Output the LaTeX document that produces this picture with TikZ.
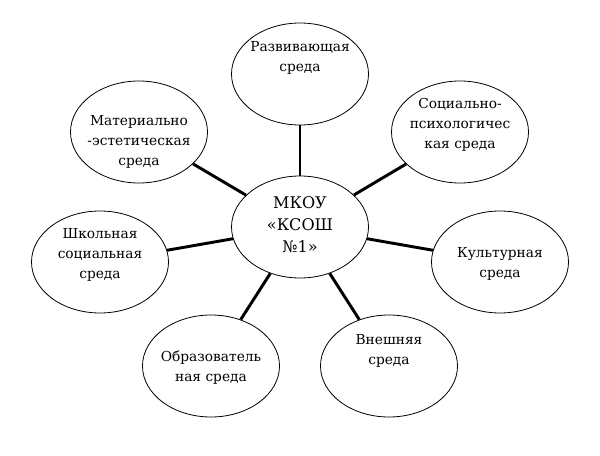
\documentclass[tikz,border=0pt]{standalone}
\usepackage{fontspec}
\setmainfont{DejaVu Serif}[Scale=0.86]
\usetikzlibrary{shapes.geometric}

\begin{document}
\begin{tikzpicture}[x=0.75pt,y=-0.75pt,
  sreda/.style={draw,ellipse,line width=0.6pt,minimum width=102.75pt,minimum height=76.5pt,inner sep=0pt},
  nadpis/.style={align=center,inner sep=0pt,font=\fontsize{12}{15}\selectfont},
  svyaz/.style={line width=2.2pt}]
\fill[white] (0,0) rectangle (600,456);
\node[sreda] (centr) at (300,227) {};
\node[sreda] (razv) at (300,74) {};
\node[sreda] (mat) at (139,132) {};
\node[sreda] (soc) at (460,132) {};
\node[sreda] (shk) at (100,262) {};
\node[sreda] (kul) at (500,262) {};
\node[sreda] (obr) at (211,366) {};
\node[sreda] (vne) at (389,366) {};
\foreach \s in {razv,mat,soc,shk,kul,obr,vne}
  \draw[svyaz] (centr) -- (\s);
\node[nadpis,font=\fontsize{14}{16.5}\selectfont] (t-centr) at (300,225) {МКОУ\\«КСОШ\\№1»};
\node[nadpis] (t-razv) at (300,58) {Развивающая\\среда};
\node[nadpis] (t-mat) at (139,142) {Материально\\-эстетическая\\среда};
\node[nadpis] (t-soc) at (460,125) {Социально-\\психологичес\\кая среда};
\node[nadpis] (t-shk) at (100,255) {Школьная\\социальная\\среда};
\node[nadpis] (t-kul) at (500,264) {Культурная\\среда};
\node[nadpis] (t-obr) at (211,368) {Образователь\\ная среда};
\node[nadpis] (t-vne) at (389,351) {Внешняя\\среда};
\end{tikzpicture}
\end{document}
